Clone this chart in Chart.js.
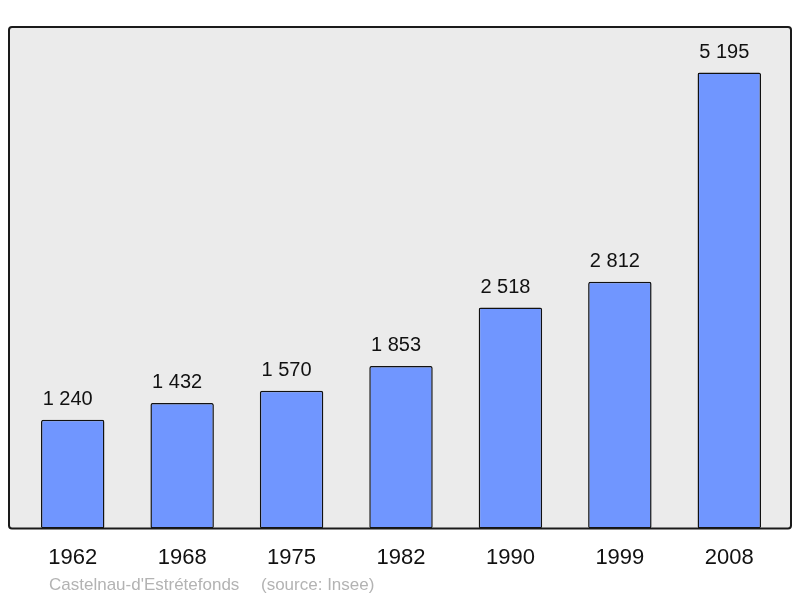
<!DOCTYPE html>
<html>
<head>
<meta charset="utf-8">
<script src="https://cdn.jsdelivr.net/npm/chart.js@4/dist/chart.umd.min.js"></script>
<style>
  html, body { margin: 0; padding: 0; background: #ffffff; }
  #wrap { width: 800px; height: 598px; }
</style>
</head>
<body>
<div id="wrap"><canvas id="chart"></canvas></div>
<script>
const years = ['1962', '1968', '1975', '1982', '1990', '1999', '2008'];
const population = [1240, 1432, 1570, 1853, 2518, 2812, 5195];
const commune = "Castelnau-d'Estrétefonds";
const sourceNote = '(source: Insee)';

// French style thousands: "1 240"
function fmt(n) {
  return String(n).replace(/\B(?=(\d{3})+(?!\d))/g, ' ');
}

// grey panel with a dark rounded frame, a bit wider than the bars area
const framePlugin = {
  id: 'frame',
  beforeDatasetsDraw(chart) {
    const { ctx, chartArea } = chart;
    const x = chartArea.left - 9, y = chartArea.top;
    const w = chartArea.right + 7 - x, h = chartArea.bottom - y;
    ctx.save();
    ctx.beginPath();
    ctx.roundRect(x, y, w, h, 3);
    ctx.fillStyle = '#ebebeb';
    ctx.fill();
    ctx.restore();
  },
  afterDatasetsDraw(chart) {
    const { ctx, chartArea } = chart;
    const x = chartArea.left - 9, y = chartArea.top;
    const w = chartArea.right + 7 - x, h = chartArea.bottom - y;
    ctx.save();
    ctx.beginPath();
    ctx.roundRect(x, y, w, h, 3);
    ctx.lineWidth = 2;
    ctx.strokeStyle = '#1a1a1a';
    ctx.stroke();

    // values above the bars (sit a little left of the bar centre)
    ctx.font = '20px "Liberation Sans", Arial, sans-serif';
    ctx.fillStyle = '#111111';
    ctx.textAlign = 'center';
    ctx.textBaseline = 'alphabetic';
    chart.getDatasetMeta(0).data.forEach((bar, i) => {
      ctx.fillText(fmt(population[i]), bar.x - 5, bar.y - 15);
    });

    // footer
    ctx.font = '17px "Liberation Sans", Arial, sans-serif';
    ctx.fillStyle = '#b3b3b3';
    ctx.textAlign = 'left';
    ctx.textBaseline = 'middle';
    ctx.fillText(commune, 49, 585);
    ctx.fillText(sourceNote, 261, 585);
    ctx.restore();
  }
};

new Chart(document.getElementById('chart'), {
  type: 'bar',
  data: {
    labels: years,
    datasets: [{
      data: population,
      backgroundColor: '#7096ff',
      borderColor: '#111111',
      borderWidth: 1.5,
      borderRadius: 2,
      borderSkipped: false,
      barPercentage: 0.58,
      categoryPercentage: 1
    }]
  },
  options: {
    responsive: true,
    maintainAspectRatio: false,
    animation: false,
    layout: { padding: { left: 18, right: 16, top: 27, bottom: 11 } },
    plugins: {
      legend: { display: false },
      tooltip: { enabled: false }
    },
    scales: {
      x: {
        grid: { display: false, drawTicks: false },
        border: { display: false },
        ticks: {
          padding: 16,
          color: '#111111',
          font: { family: '"Liberation Sans", Arial, sans-serif', size: 22 }
        }
      },
      y: {
        display: false,
        min: 0,
        max: 5714.5
      }
    }
  },
  plugins: [framePlugin]
});
</script>
</body>
</html>
